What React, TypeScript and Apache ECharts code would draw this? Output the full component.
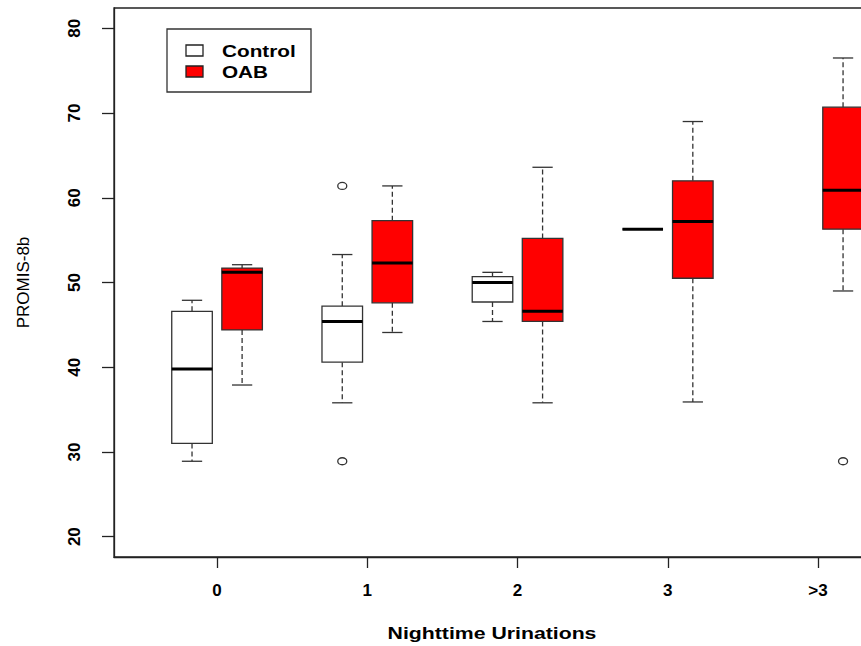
import React, { useEffect, useRef } from "react";
import * as echarts from "echarts";

const categories = ["0", "1", "2", "3", ">3"];
// [min, q1, median, q3, max] per category; null = no data
const controlStats: (number[] | null)[] = [
  [28.9, 31.0, 39.8, 46.6, 47.9],
  [35.8, 40.6, 45.4, 47.2, 53.3],
  [45.4, 47.7, 50.0, 50.7, 51.2],
  [56.3, 56.3, 56.3, 56.3, 56.3],
  null,
];
const oabStats: (number[] | null)[] = [
  [37.9, 44.4, 51.2, 51.7, 52.1],
  [44.1, 47.6, 52.3, 57.3, 61.4],
  [35.8, 45.4, 46.6, 55.2, 63.6],
  [35.9, 50.5, 57.2, 62.0, 69.0],
  [49.0, 56.3, 60.9, 70.7, 76.5],
];
// [category index, value]
const controlOutliers = [
  [1, 61.4],
  [1, 28.9],
];
const oabOutliers = [[4, 28.9]];
const yTicks = [20, 30, 40, 50, 60, 70, 80];
const seriesNames = ["Control", "OAB"];

const FONT = "'Liberation Sans', Arial, Helvetica, sans-serif";
const OFFSET = 1 / 6;
const BOX_W = 0.27;

function boxRenderer(fill: string) {
  return (params: any, api: any) => {
    const x = api.value(0);
    const vals = [1, 2, 3, 4, 5].map((i) => api.value(i));
    const p = vals.map((v) => api.coord([x, v]));
    const cx = p[0][0];
    const left = api.coord([x - BOX_W / 2, vals[0]])[0];
    const right = api.coord([x + BOX_W / 2, vals[0]])[0];
    const w = right - left;
    const capHalf = w / 4;
    const [yMin, yQ1, yMed, yQ3, yMax] = p.map((q: number[]) => q[1]);
    const dashStyle = { stroke: "#333", lineWidth: 1.3, lineDash: [5, 3] };
    const solid = { stroke: "#333", lineWidth: 1.3 };
    return {
      type: "group",
      children: [
        { type: "line", shape: { x1: cx, y1: yQ3, x2: cx, y2: yMax }, style: dashStyle },
        { type: "line", shape: { x1: cx, y1: yQ1, x2: cx, y2: yMin }, style: dashStyle },
        { type: "line", shape: { x1: cx - capHalf, y1: yMax, x2: cx + capHalf, y2: yMax }, style: solid },
        { type: "line", shape: { x1: cx - capHalf, y1: yMin, x2: cx + capHalf, y2: yMin }, style: solid },
        {
          type: "rect",
          shape: { x: left, y: yQ3, width: w, height: yQ1 - yQ3 },
          style: { fill, stroke: "#333", lineWidth: 1.3 },
        },
        {
          type: "line",
          shape: { x1: left, y1: yMed, x2: right, y2: yMed },
          style: { stroke: "#000", lineWidth: 3 },
        },
      ],
    };
  };
}

function outlierRenderer(params: any, api: any) {
  const p = api.coord([api.value(0), api.value(1)]);
  return {
    type: "ellipse",
    shape: { cx: p[0], cy: p[1], rx: 4.5, ry: 3.5 },
    style: { fill: "none", stroke: "#333", lineWidth: 1.3 },
  };
}

export default function App() {
  const ref = useRef<HTMLDivElement>(null);
  useEffect(() => {
    if (!ref.current) return;
    const chart = echarts.init(ref.current, undefined, { renderer: "svg" });
    const controlData = controlStats
      .map((s, i) => (s ? [i - OFFSET, ...s] : null))
      .filter((d) => d !== null);
    const oabData = oabStats
      .map((s, i) => (s ? [i + OFFSET, ...s] : null))
      .filter((d) => d !== null);
    const outlierData = [
      ...controlOutliers.map((o) => [o[0] - OFFSET, o[1]]),
      ...oabOutliers.map((o) => [o[0] + OFFSET, o[1]]),
    ];
    chart.setOption({
      animation: false,
      backgroundColor: "#fff",
      grid: {
        left: 114,
        top: 8,
        right: 0,
        bottom: 89,
        show: true,
        borderColor: "#222",
        borderWidth: 1.3,
      },
      xAxis: {
        type: "value",
        min: -0.686,
        max: 4.346,
        splitLine: { show: false },
        axisLine: { show: true, onZero: false, lineStyle: { color: "#222", width: 1.3 } },
        axisTick: {
          show: true,
          length: 11,
          customValues: categories.map((_, i) => i),
          lineStyle: { color: "#222", width: 1.3 },
        },
        axisLabel: {
          customValues: categories.map((_, i) => i),
          formatter: (v: number) => categories[Math.round(v)] ?? "",
          fontSize: 17,
          fontWeight: "bold",
          fontFamily: FONT,
          color: "#000",
          margin: 25,
        },
      },
      yAxis: {
        type: "value",
        min: 17.6,
        max: 82.4,
        name: "PROMIS-8b",
        nameLocation: "middle",
        nameRotate: 90,
        nameGap: 82,
        nameTextStyle: { fontSize: 17, fontFamily: FONT, color: "#000" },
        splitLine: { show: false },
        axisLine: { show: true, onZero: false, lineStyle: { color: "#222", width: 1.3 } },
        axisTick: {
          show: true,
          length: 12,
          customValues: yTicks,
          lineStyle: { color: "#222", width: 1.3 },
        },
        axisLabel: {
          customValues: yTicks,
          rotate: 90,
          fontSize: 17,
          fontWeight: "bold",
          fontFamily: FONT,
          color: "#000",
          margin: 31,
        },
      },
      graphic: [
        {
          type: "rect",
          shape: { x: 167, y: 29, width: 144, height: 63 },
          style: { fill: "#fff", stroke: "#333", lineWidth: 1.3 },
          z: 100,
        },
        {
          type: "rect",
          shape: { x: 186, y: 45, width: 17, height: 11 },
          style: { fill: "#fff", stroke: "#222", lineWidth: 1.3 },
          z: 101,
        },
        {
          type: "rect",
          shape: { x: 186, y: 66, width: 17, height: 11 },
          style: { fill: "#ff0000", stroke: "#222", lineWidth: 1.3 },
          z: 101,
        },
        {
          type: "text",
          x: 222,
          y: 51,
          scaleX: 1.22,
          z: 101,
          style: {
            text: seriesNames[0],
            font: `bold 17px ${FONT}`,
            fill: "#000",
            textVerticalAlign: "middle",
          },
        },
        {
          type: "text",
          x: 222,
          y: 72,
          scaleX: 1.22,
          z: 101,
          style: {
            text: seriesNames[1],
            font: `bold 17px ${FONT}`,
            fill: "#000",
            textVerticalAlign: "middle",
          },
        },
        {
          type: "text",
          x: 492,
          y: 633,
          scaleX: 1.25,
          z: 101,
          style: {
            text: "Nighttime Urinations",
            font: `bold 17px ${FONT}`,
            fill: "#000",
            textAlign: "center",
            textVerticalAlign: "middle",
          },
        },
      ],
      series: [
        {
          name: seriesNames[0],
          type: "custom",
          renderItem: boxRenderer("#ffffff"),
          encode: { x: 0, y: [1, 2, 3, 4, 5] },
          data: controlData,
          clip: false,
        },
        {
          name: seriesNames[1],
          type: "custom",
          renderItem: boxRenderer("#ff0000"),
          encode: { x: 0, y: [1, 2, 3, 4, 5] },
          data: oabData,
          clip: false,
        },
        {
          name: "Outliers",
          type: "custom",
          renderItem: outlierRenderer,
          encode: { x: 0, y: 1 },
          data: outlierData,
          clip: false,
        },
      ],
    });
    return () => chart.dispose();
  }, []);
  return (
    <div
      style={{
        position: "fixed",
        left: 0,
        top: 0,
        width: 861,
        height: 646,
        overflow: "hidden",
        background: "#fff",
      }}
    >
      <div ref={ref} style={{ width: 870, height: 646 }} />
    </div>
  );
}
